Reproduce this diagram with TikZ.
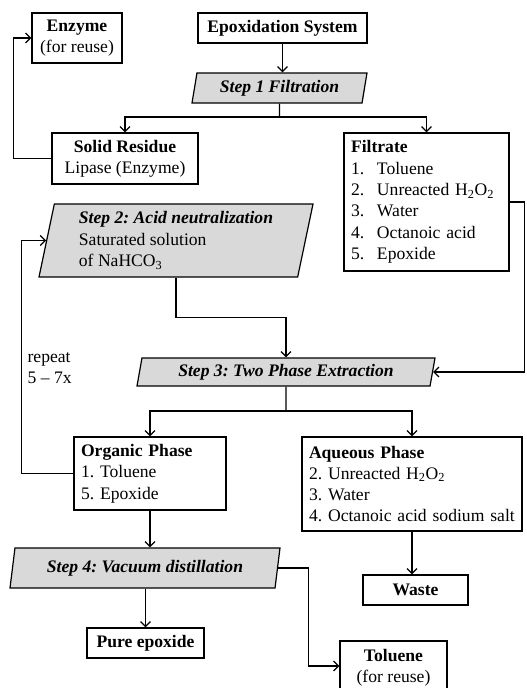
\documentclass[tikz,border=0pt]{standalone}
\usepackage{fontspec}
\setmainfont{Liberation Serif}
\usetikzlibrary{shapes.geometric,arrows.meta}
\definecolor{stepgray}{HTML}{D9D9D9}

\begin{document}
\begin{tikzpicture}[x=1pt,y=-1pt,line width=1.2pt,
  every node/.style={font=\fontsize{17.6}{21.3}\selectfont\frenchspacing},
  box/.style={draw,inner sep=6pt,align=center},
  listbox/.style={draw,inner sep=7pt,align=left},
  stepbox/.style={draw,fill=stepgray,trapezium,trapezium left angle=76,
    trapezium right angle=104,trapezium stretches body,inner sep=2pt,align=left},
  >={Straight Barb[length=5pt,width=10pt]}]
  \useasboundingbox (0,0) rectangle (527,688);

  % boxes
  \node[box,minimum width=90pt,minimum height=50pt] (enzyme) at (77,38) {\textbf{Enzyme}\\(for reuse)};
  \node[box,minimum width=169pt,minimum height=30pt] (epox) at (282.5,28) {\textbf{Epoxidation System}};
  \node[stepbox,minimum width=175pt,minimum height=30pt] (step1) at (279.5,88) {\textbf{\textit{Step 1 Filtration}}};
  \node[box,minimum width=146pt,minimum height=51pt] (solid) at (125,158.5) {\textbf{Solid Residue}\\Lipase (Enzyme)};
  \node[listbox,text width=151pt,minimum height=138pt] (filtrate) at (426.5,202) {\textbf{Filtrate}\\
    \makebox[26pt][l]{1.}Toluene\\
    \makebox[26pt][l]{2.}Unreacted H\textsubscript{2}O\textsubscript{2}\\
    \makebox[26pt][l]{3.}Water\\
    \makebox[26pt][l]{4.}Octanoic acid\\
    \makebox[26pt][l]{5.}Epoxide};
  \node[stepbox,minimum width=274pt,minimum height=73pt] (step2) at (176,240.5) {\textbf{\textit{Step 2: Acid neutralization}}\\Saturated solution\\of NaHCO\textsubscript{3}};
  \node[stepbox,minimum width=298pt,minimum height=28pt] (step3) at (286,372) {\textbf{\textit{Step 3: Two Phase Extraction}}};
  \node[listbox,text width=138pt,minimum height=73pt] (organic) at (150,473.5) {\textbf{Organic Phase}\\1. Toluene\\5. Epoxide};
  \node[listbox,text width=206pt,minimum height=94pt] (aqueous) at (412,484) {\textbf{Aqueous Phase}\\2. Unreacted H\textsubscript{2}O\textsubscript{2}\\3. Water\\4. Octanoic acid sodium salt};
  \node[stepbox,minimum width=270pt,minimum height=40pt] (step4) at (145,568) {\textbf{\textit{Step 4: Vacuum distillation}}};
  \node[box,minimum width=105pt,minimum height=30pt] (waste) at (415.5,590) {\textbf{Waste}};
  \node[box,minimum width=117pt,minimum height=30pt] (pure) at (145.5,643) {\textbf{Pure epoxide}};
  \node[box,minimum width=107pt,minimum height=54pt,text depth=4pt] (toluene) at (393.5,668) {\textbf{Toluene}\\(for reuse)};
  \node[align=left,anchor=west,inner sep=0pt] (rep) at (27,368) {repeat\\5 -- 7x};

  \coordinate (split1) at (279.5,117);
  \coordinate (split3) at (286,411);

  % connectors
  \draw[->] (epox.south) -- (epox.south |- step1.north);
  \draw (step1.south) -- (split1);
  \draw[->] (split1) -| (solid.north);
  \draw[->] (split1) -| (filtrate.north);
  \draw[->] (solid.west) -- ++(-38,0) |- (enzyme.west);
  \draw[->] (filtrate.east) -- ++(15,0) |- (step3.east);
  \draw[->] (step2.south) -- ++(0,40) -| (step3.north);
  \draw (step3.south) -- (split3);
  \draw[->] (split3) -| (organic.north);
  \draw[->] (split3) -| (aqueous.north);
  \draw[->] (organic.west) -- ++(-52,0) |- (step2.west);
  \draw[->] (organic.south) -- (organic.south |- step4.north);
  \draw[->] (step4.south -| pure.north) -- (pure.north);
  \draw[->] (step4.east) -- ++(30,0) |- ([yshift=2pt]toluene.west);
  \draw[->] (aqueous.south) -- (aqueous.south |- waste.north);
\end{tikzpicture}
\end{document}
